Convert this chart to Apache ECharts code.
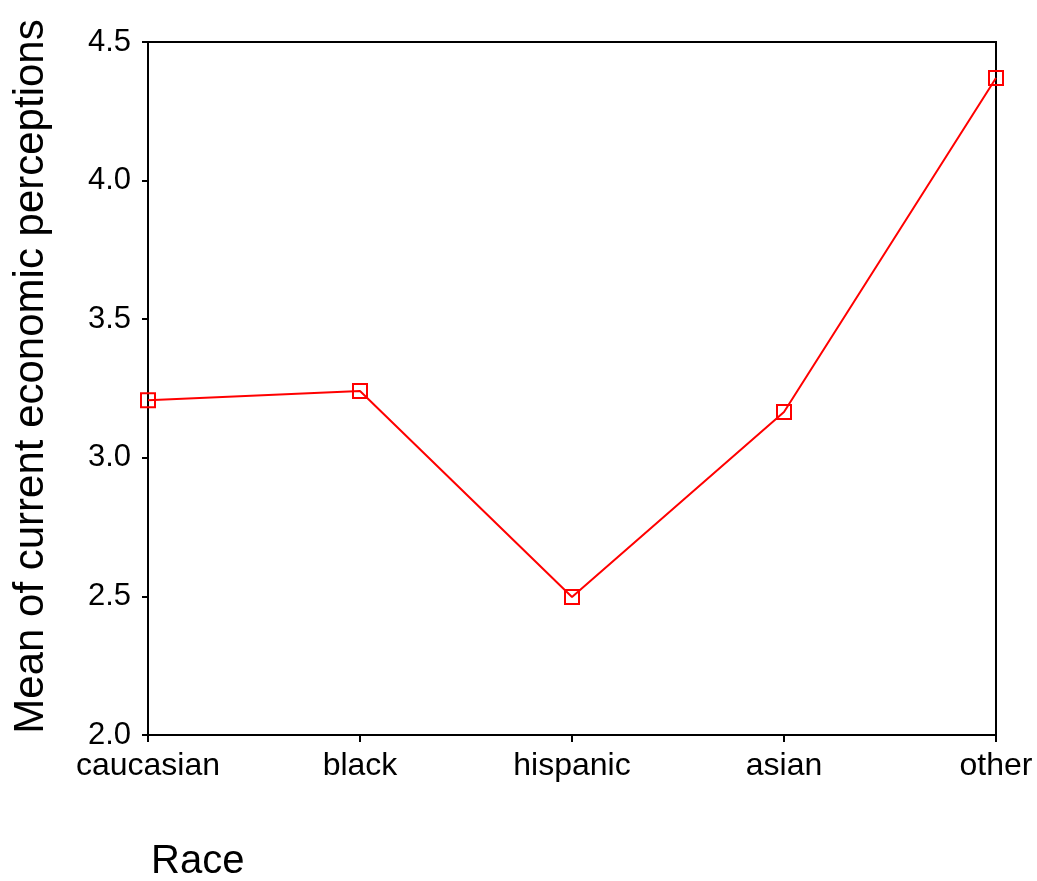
<!DOCTYPE html>
<html>
<head>
<meta charset="utf-8">
<script src="https://cdn.jsdelivr.net/npm/echarts@6/dist/echarts.min.js"></script>
<style>html,body{margin:0;padding:0;background:#fff}#c{width:1037px;height:881px}</style>
</head>
<body>
<div id="c"></div>
<script>
var categories = ["caucasian", "black", "hispanic", "asian", "other"];
var meanValues = [3.208, 3.241, 2.498, 3.165, 4.370];
var yTicks = [2.0, 2.5, 3.0, 3.5, 4.0, 4.5];

var chart = echarts.init(document.getElementById('c'));
var font = '"Liberation Sans", Arial, sans-serif';
chart.setOption({
  animation: false,
  backgroundColor: '#fff',
  grid: {left: 148, right: 41, top: 42, bottom: 146, show: true, borderColor: '#000', borderWidth: 2, backgroundColor: 'transparent'},
  xAxis: {
    type: 'category', data: categories, boundaryGap: false,
    axisLine: {lineStyle: {color: '#000', width: 2}},
    axisTick: {show: true, length: 7, lineStyle: {color: '#000', width: 2}, alignWithLabel: true},
    axisLabel: {color: '#000', fontSize: 32, fontFamily: font, margin: 15},
    splitLine: {show: false}
  },
  yAxis: {
    type: 'value', min: yTicks[0], max: yTicks[yTicks.length - 1], interval: 0.5,
    name: 'Mean of current economic perceptions', nameLocation: 'middle', nameGap: 96,
    nameTextStyle: {color: '#000', fontSize: 42, fontFamily: font, padding: [0, 0, 0, 24]},
    axisLine: {show: true, lineStyle: {color: '#000', width: 2}},
    axisTick: {show: true, length: 6, lineStyle: {color: '#000', width: 2}},
    axisLabel: {color: '#000', fontSize: 31, fontFamily: font, margin: 17, formatter: function (v) { return v.toFixed(1); }},
    splitLine: {show: false}
  },
  graphic: [{type: 'text', left: 151, top: 842, style: {text: 'Race', fontSize: 40, fontFamily: font, fill: '#000'}}],
  series: [{
    type: 'line', data: meanValues,
    symbol: 'rect', symbolSize: 14,
    lineStyle: {color: '#ff0000', width: 2},
    itemStyle: {color: 'rgba(0,0,0,0)', borderColor: '#ff0000', borderWidth: 2},
    z: 5
  }]
});
</script>
</body>
</html>
